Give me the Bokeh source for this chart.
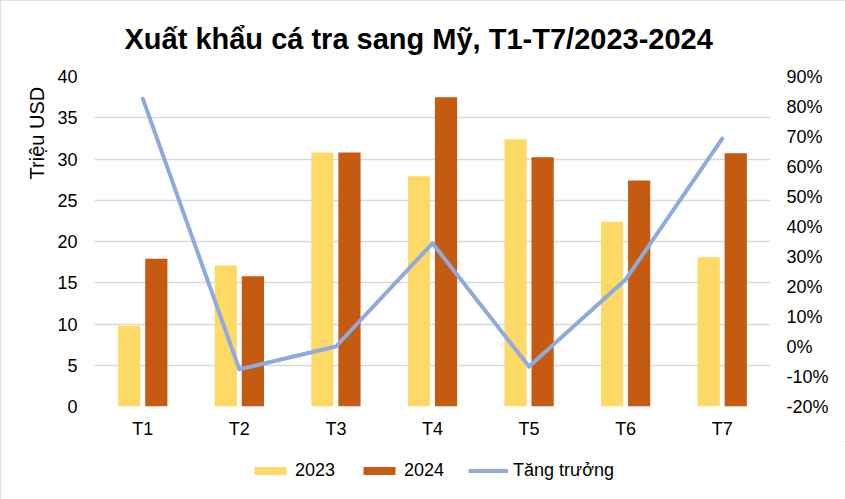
from bokeh.plotting import figure
from bokeh.layouts import column
from bokeh.models import (ColumnDataSource, FactorRange, Range1d, LinearAxis, FixedTicker,
                          PrintfTickFormatter, Legend, LegendItem)
from bokeh.transform import dodge
from bokeh.embed import file_html
from bokeh.resources import INLINE

months = ["T1", "T2", "T3", "T4", "T5", "T6", "T7"]
v2023 = [9.8, 17.1, 30.8, 27.9, 32.4, 22.4, 18.1]
v2024 = [17.9, 15.8, 30.8, 37.5, 30.2, 27.4, 30.7]
growth = [82.6, -7.6, 0.0, 34.4, -6.7, 22.3, 69.3]
left_ticks = [0, 5, 10, 15, 20, 25, 30, 35, 40]
right_ticks = [-20, -10, 0, 10, 20, 30, 40, 50, 60, 70, 80, 90]
series_names = ["2023", "2024", "Tăng trưởng"]

FONT = "Liberation Sans"
C23 = "#FFD966"
C24 = "#C55A11"
CL = "#8FAADC"
FS = "18px"

src = ColumnDataSource(dict(m=months, a=v2023, b=v2024, g=growth))

p = figure(width=845, height=441, x_range=FactorRange(*months), y_range=Range1d(0, 40),
           output_backend="svg", toolbar_location=None,
           min_border_left=94, min_border_right=75, min_border_top=76, min_border_bottom=35)
p.extra_y_ranges = {"pct": Range1d(-20, 90)}
p.outline_line_color = None
p.x_range.range_padding = 0
p.x_range.group_padding = 0

p.vbar(x=dodge("m", -0.14, range=p.x_range), top="a", width=0.23, source=src,
       fill_color=C23, line_color=None)
p.vbar(x=dodge("m", 0.14, range=p.x_range), top="b", width=0.23, source=src,
       fill_color=C24, line_color=None)
p.line(x="m", y="g", source=src, y_range_name="pct", line_color=CL, line_width=4,
       line_join="round", line_cap="round")

# axes
p.yaxis.ticker = FixedTicker(ticks=left_ticks)
ax_r = LinearAxis(y_range_name="pct", ticker=FixedTicker(ticks=right_ticks),
                  formatter=PrintfTickFormatter(format="%d%%"))
p.add_layout(ax_r, "right")

for ax in [p.yaxis[0], ax_r, p.xaxis[0]]:
    ax.axis_line_color = None
    ax.major_tick_line_color = None
    ax.minor_tick_line_color = None
    ax.major_tick_out = 0
    ax.major_tick_in = 0
    ax.major_label_text_font = FONT
    ax.major_label_text_font_size = FS
    ax.major_label_text_color = "#000000"
p.yaxis[0].major_label_standoff = 17
ax_r.major_label_standoff = 16
p.xaxis[0].major_label_standoff = 12

# y-axis title, shifted toward the top with leading no-break spaces
p.yaxis[0].axis_label = "\u00a0" * 39 + "Triệu USD"
p.yaxis[0].axis_label_text_font = FONT
p.yaxis[0].axis_label_text_font_size = "20px"
p.yaxis[0].axis_label_text_font_style = "normal"
p.yaxis[0].axis_label_text_color = "#000000"
p.yaxis[0].axis_label_standoff = 6

p.xgrid.grid_line_color = None
p.ygrid.grid_line_color = "#D9D9D9"
p.ygrid.grid_line_width = 1.3

# chart title
p.title.text = "Xuất khẩu cá tra sang Mỹ, T1-T7/2023-2024"
p.title.align = "left"
p.title.offset = 30
p.title.vertical_align = "middle"
p.title.text_font = FONT
p.title.text_font_size = "29px"
p.title.text_font_style = "bold"
p.title.text_color = "#000000"
p.title.standoff = 41

# legend strip below the chart
lg = figure(width=845, height=58, x_range=Range1d(0, 1), y_range=Range1d(0, 1),
            output_backend="svg", toolbar_location=None, x_axis_type=None, y_axis_type=None,
            min_border_left=0, min_border_right=17, min_border_top=0, min_border_bottom=0)
lg.outline_line_color = None
lg.grid.grid_line_color = None
off = ColumnDataSource(dict(x=[-5.0, -4.0], y=[-5.0, -4.0]))
k23 = lg.vbar(x="x", top="y", width=0.1, source=off, fill_color=C23, line_color=None)
k24 = lg.vbar(x="x", top="y", width=0.1, source=off, fill_color=C24, line_color=None)
kl = lg.line(x="x", y="y", source=off, line_color=CL, line_width=4)
legend = Legend(items=[LegendItem(label=series_names[0], renderers=[k23]),
                       LegendItem(label=series_names[1], renderers=[k24]),
                       LegendItem(label=series_names[2], renderers=[kl])],
                orientation="horizontal", location="center",
                glyph_width=40, glyph_height=10, label_standoff=5, spacing=24,
                padding=0, margin=0, border_line_color=None,
                background_fill_alpha=0,
                label_text_font=FONT, label_text_font_size=FS, label_text_color="#000000")
lg.add_layout(legend, "center")

layout = column(p, lg, spacing=0,
                styles={"outline": "1px solid #D9D9D9", "outline-offset": "-1px"})
open("out.html", "w").write(file_html(layout, INLINE))
